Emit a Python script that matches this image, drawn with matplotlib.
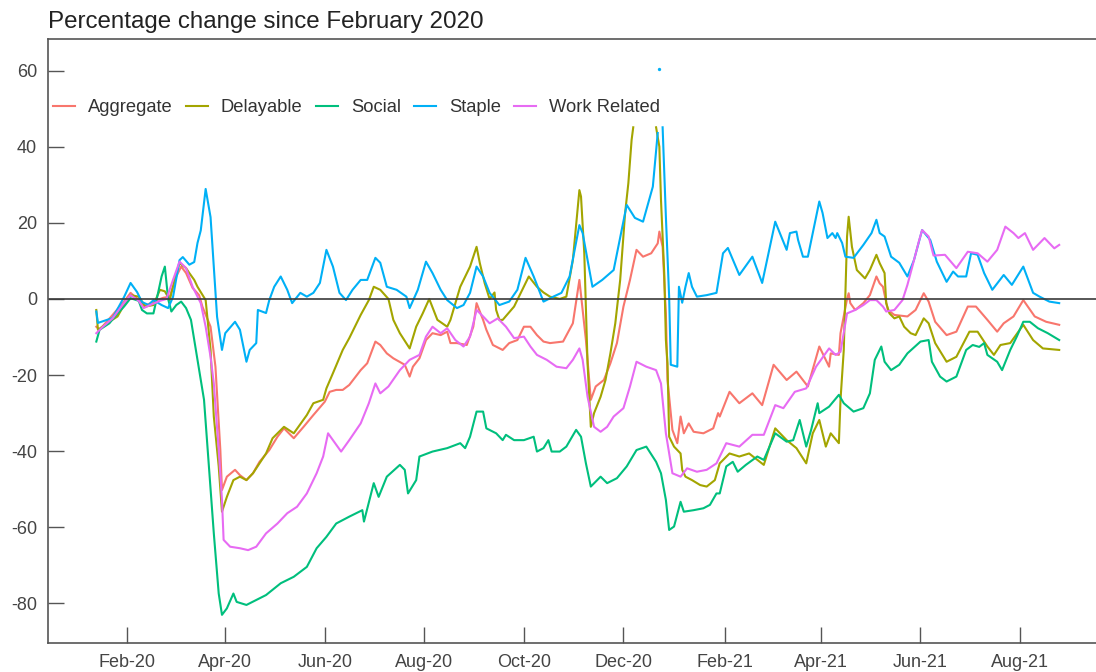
import numpy as np
import pandas as pd
import matplotlib
matplotlib.use('Agg')
from matplotlib import pyplot as plt
import matplotlib.dates as mdates

plt.rcParams['font.family'] = ['Liberation Sans', 'DejaVu Sans']
plt.rcParams['axes.unicode_minus'] = False

# day offsets are counted from 1 Feb 2020, values are % change since Feb 2020
base = pd.Timestamp('2020-02-01')

agg_day = [-19, -17, -9, -2, 2, 7, 10, 16, 22, 26, 30, 33, 36, 40, 44, 46, 51, 54, 57, 58,
           61, 66, 69, 73, 77, 81, 87, 92, 96, 102, 108, 114, 121, 124, 128, 132, 136, 143, 147, 152,
           155, 159, 163, 170, 173, 175, 179, 183, 187, 192, 196, 198, 202, 208, 212, 214, 218, 220, 224, 230,
           234, 239, 243, 247, 251, 255, 259, 267, 273, 277, 281, 284, 287, 292, 296, 300, 304, 308, 312, 316,
           321, 325, 326, 328, 330, 331, 334, 337, 339, 341, 344, 347, 353, 359, 362, 363, 369, 375, 383, 389,
           396, 404, 410, 417, 424, 430, 431, 436, 437, 441, 442, 443, 446, 451, 455, 459, 461, 463, 466, 470,
           478, 483, 488, 491, 495, 502, 508, 515, 520, 527, 533, 537, 543, 549, 556, 563, 571]
agg_val = [-7.3, -8.1, -4.2, -0.7, 1.6, -0.3, -2.0, -0.7, 0.3, 0.6, 5.9, 8.5, 6.8, 2.9, 1.0, -2.0, -7.3, -17.8, -39.7, -50.2,
           -46.7, -44.9, -46.3, -47.6, -45.8, -42.8, -39.7, -36.2, -34.0, -36.6, -33.6, -30.5, -27.0, -24.4, -23.9, -23.9, -22.6, -18.7, -16.9, -11.2,
           -12.1, -14.3, -15.6, -17.3, -20.4, -17.8, -15.6, -10.8, -9.0, -9.5, -8.6, -11.6, -11.6, -12.1, -7.3, -1.1, -5.5, -8.1, -12.1, -13.4,
           -11.6, -10.8, -7.3, -7.3, -9.5, -11.2, -11.6, -11.2, -6.4, 5.0, -10.8, -26.5, -23.0, -21.3, -16.9, -11.6, -2.0, 5.0, 12.9, 11.1,
           12.0, 14.6, 17.7, 13.7, -3.8, -21.3, -34.4, -37.9, -30.9, -35.3, -32.7, -34.9, -35.3, -34.0, -30.0, -30.9, -24.4, -27.4, -24.8, -27.9,
           -17.3, -21.3, -19.1, -23.0, -12.5, -17.8, -14.3, -14.7, -9.0, 0.0, 1.5, -1.1, -2.9, -1.1, 1.0, 5.9, 4.1, 3.2, -2.9, -4.2,
           -4.6, -2.9, 1.5, -0.7, -6.0, -9.5, -8.6, -2.0, -2.0, -5.5, -8.6, -6.4, -4.6, -0.3, -4.6, -6.0, -6.8]

del_day = [-19, -18, -11, -6, -2, 2, 7, 11, 16, 20, 23, 26, 30, 32, 36, 38, 41, 43, 48, 51,
           53, 56, 58, 61, 65, 69, 73, 77, 81, 85, 89, 96, 102, 110, 114, 120, 122, 126, 132, 136,
           143, 148, 151, 155, 160, 163, 167, 173, 177, 181, 185, 190, 193, 196, 198, 204, 210, 214, 216, 219,
           222, 225, 226, 228, 230, 237, 241, 246, 251, 255, 259, 265, 269, 273, 277, 278, 280, 282, 284, 286,
           290, 293, 296, 299, 302, 305, 307, 309, 310, 317, 324, 326, 327, 329, 330, 331, 332, 335, 339, 340,
           342, 346, 351, 355, 360, 363, 369, 375, 381, 390, 397, 404, 410, 416, 420, 424, 428, 431, 436, 437,
           439, 441, 442, 444, 447, 452, 455, 459, 461, 464, 465, 467, 470, 473, 476, 480, 483, 488, 491, 495,
           502, 508, 516, 521, 527, 531, 535, 541, 549, 555, 561, 571]
del_val = [-2.9, -8.1, -6.0, -4.6, -1.6, 1.0, 0.6, -2.0, -1.6, 2.4, 2.0, -0.3, 6.8, 9.4, 8.1, 6.8, 5.0, 3.2, -0.3, -13.4,
           -30.9, -44.0, -55.9, -52.0, -47.6, -46.7, -47.6, -45.8, -43.2, -40.6, -36.6, -33.6, -35.3, -30.5, -27.4, -26.5, -23.5, -19.5, -13.4, -10.3,
           -4.2, -0.3, 3.2, 2.4, 0.0, -5.5, -9.0, -13.0, -7.3, -3.8, 0.0, -5.5, -6.4, -7.3, -5.5, 3.2, 8.5, 13.7, 9.4, 4.1,
           0.0, 1.7, -2.9, -5.5, -5.5, -2.0, 1.5, 5.9, 3.2, 1.7, 0.6, 0.0, 0.6, 10.2, 28.6, 26.9, 12.0, -16.9, -33.6, -30.0,
           -25.7, -21.3, -14.3, -6.4, 5.0, 22.5, 30.4, 41.8, 45.1, np.nan, 45.1, 40.0, 26.0, 6.8, -10.8, -16.9, -36.2, -38.8, -40.6, -44.9,
           -46.7, -47.6, -48.9, -49.3, -47.6, -43.2, -40.6, -41.4, -40.6, -43.6, -34.0, -37.1, -39.2, -43.2, -35.3, -31.8, -38.8, -35.3, -37.9, -26.5,
           -13.4, 16.4, 21.6, 13.7, 7.6, 5.4, 7.6, 11.6, 9.4, 6.8, -1.1, -3.8, -5.1, -4.6, -7.3, -9.0, -9.5, -5.1, -6.4, -11.6,
           -16.5, -15.2, -8.6, -8.6, -12.5, -14.7, -12.1, -11.6, -6.8, -10.8, -13.0, -13.4]

soc_day = [-19, -17, -11, -6, -2, 2, 7, 9, 12, 16, 19, 21, 23, 25, 27, 30, 33, 36, 39, 42,
           47, 50, 53, 56, 58, 61, 65, 67, 73, 79, 85, 94, 102, 110, 116, 122, 128, 136, 144, 145,
           151, 154, 159, 167, 170, 172, 177, 179, 187, 196, 204, 207, 210, 214, 218, 220, 226, 230, 232, 237,
           243, 249, 251, 255, 258, 260, 265, 269, 275, 278, 281, 284, 290, 294, 300, 306, 312, 318, 324, 327,
           330, 332, 335, 339, 341, 347, 353, 357, 361, 363, 367, 371, 374, 379, 386, 390, 397, 404, 408, 412,
           416, 419, 423, 424, 430, 436, 439, 445, 451, 455, 458, 462, 464, 468, 473, 478, 486, 491, 493, 498,
           502, 508, 514, 518, 522, 525, 527, 533, 536, 541, 545, 549, 553, 558, 564, 571]
soc_val = [-11.2, -8.1, -6.4, -3.8, -2.0, 0.2, -0.5, -2.9, -3.8, -3.8, 1.9, 5.9, 8.5, 0.0, -3.3, -1.6, -0.7, -2.4, -5.5, -13.4,
           -26.5, -44.0, -61.6, -77.4, -83.0, -81.3, -77.4, -79.6, -80.4, -79.1, -77.8, -74.7, -73.0, -70.4, -65.5, -62.5, -59.0, -57.2, -55.5, -58.5,
           -48.4, -52.0, -46.7, -43.6, -44.9, -51.1, -47.6, -41.4, -40.1, -39.2, -37.9, -39.2, -36.2, -29.6, -29.6, -34.0, -35.3, -37.1, -35.7, -37.1,
           -37.1, -36.2, -40.1, -39.2, -37.1, -40.1, -40.1, -38.8, -34.4, -36.2, -43.2, -49.3, -46.7, -48.4, -47.1, -44.0, -39.7, -38.8, -42.8, -45.8,
           -52.8, -60.7, -59.8, -53.3, -55.9, -55.5, -55.0, -54.1, -51.1, -51.1, -44.0, -42.8, -45.4, -43.6, -41.4, -42.3, -35.3, -37.5, -37.1, -31.8,
           -38.8, -34.4, -27.4, -30.0, -28.3, -25.2, -27.4, -29.6, -28.7, -24.8, -16.0, -12.5, -16.5, -18.7, -17.3, -14.3, -11.2, -10.8, -16.5, -20.4,
           -21.7, -20.4, -13.4, -12.1, -12.6, -11.6, -14.7, -16.5, -18.7, -13.4, -9.9, -6.0, -6.0, -7.7, -9.0, -10.8]

sta_day = [-19, -18, -9, -2, 2, 6, 9, 13, 16, 21, 25, 28, 32, 34, 38, 41, 43, 45, 48, 51,
           53, 55, 58, 60, 66, 69, 73, 75, 79, 80, 85, 87, 90, 94, 98, 101, 106, 110, 114, 118,
           122, 126, 130, 134, 138, 143, 147, 152, 155, 159, 165, 171, 173, 178, 183, 187, 192, 196, 202, 206,
           210, 214, 218, 222, 228, 234, 239, 244, 249, 255, 261, 266, 271, 277, 279, 285, 291, 298, 306, 311,
           316, 322, 325, 326, 328, 330, 332, 333, 337, 338, 340, 342, 344, 346, 349, 355, 361, 365, 368, 375,
           383, 389, 397, 404, 406, 410, 411, 414, 417, 424, 426, 429, 432, 434, 435, 438, 440, 445, 451, 456,
           459, 461, 464, 468, 473, 478, 482, 487, 492, 496, 502, 506, 509, 514, 517, 521, 525, 530, 537, 542,
           549, 555, 559, 565, 571]
sta_val = [-3.3, -6.3, -5.0, 0.5, 4.2, 1.8, -0.8, -1.6, -0.3, -1.6, -2.4, 0.5, 10.2, 11.0, 9.0, 9.7, 14.7, 18.0, 28.9, 21.5,
           8.4, -4.7, -13.4, -9.0, -6.0, -8.1, -16.5, -13.4, -11.6, -2.9, -3.7, -0.3, 3.2, 5.9, 2.4, -1.1, 1.6, 0.6, 1.6, 4.2,
           12.9, 8.5, 1.6, -0.3, 2.4, 5.0, 5.0, 10.8, 9.5, 3.2, 2.4, 0.6, -2.4, 2.4, 9.8, 6.8, 2.4, -0.3, -2.4, -1.6,
           1.6, 8.5, 5.9, 1.6, -1.6, -0.7, 2.4, 10.8, 5.9, -0.7, 0.6, 1.6, 5.9, 19.4, 17.3, 3.2, 5.0, 7.6, 24.7, 21.3,
           20.3, 29.5, 43.6, np.nan, 45.1, 21.6, 0.6, -17.3, -17.8, 3.2, -1.0, 3.2, 6.8, 3.2, 0.6, 1.0, 1.6, 12.0, 13.4, 6.3,
           11.1, 4.2, 20.3, 12.9, 17.3, 17.7, 15.5, 11.1, 11.1, 25.6, 22.6, 16.0, 17.3, 16.0, 17.3, 14.7, 11.1, 10.8, 14.2, 17.3,
           20.8, 17.3, 16.4, 11.1, 9.5, 5.9, 10.2, 18.1, 15.5, 9.8, 4.5, 7.2, 5.9, 5.9, 12.0, 11.6, 6.8, 2.4, 6.3, 3.7,
           8.5, 1.6, 0.6, -0.7, -1.1]

# a single Staple reading just before Christmas 2020 that stands apart from the line
sta_dot_day = [326]
sta_dot_val = [60.4]

wrk_day = [-19, -15, -9, -3, 2, 7, 10, 14, 20, 24, 28, 32, 36, 40, 45, 48, 51, 53, 56, 58,
           59, 63, 69, 74, 79, 85, 92, 98, 104, 110, 116, 120, 123, 126, 131, 136, 143, 148, 152, 155,
           160, 167, 173, 179, 183, 187, 192, 196, 201, 206, 210, 214, 218, 222, 227, 232, 237, 243, 247, 251,
           257, 263, 269, 273, 277, 279, 282, 286, 290, 294, 298, 304, 308, 312, 318, 324, 327, 330, 334, 339,
           343, 349, 355, 361, 367, 375, 383, 390, 397, 402, 409, 416, 422, 430, 434, 437, 441, 446, 451, 455,
           459, 463, 465, 470, 475, 478, 481, 485, 487, 491, 494, 501, 508, 515, 521, 527, 533, 538, 543, 546,
           550, 555, 562, 568, 571]
wrk_val = [-9.0, -7.3, -5.1, -1.6, 1.0, -0.5, -2.4, -1.6, -0.5, 0.0, 5.0, 9.8, 8.1, 3.2, -1.1, -7.3, -15.2, -22.2, -39.7, -52.8,
           -63.3, -65.1, -65.5, -66.0, -65.1, -61.6, -59.0, -56.3, -54.6, -51.1, -45.8, -41.4, -35.3, -37.1, -40.1, -37.1, -32.7, -27.4, -22.2, -24.8,
           -23.0, -18.7, -16.0, -14.7, -9.9, -7.3, -9.0, -7.7, -10.8, -12.5, -9.9, -2.9, -4.6, -6.4, -5.1, -7.3, -10.3, -9.9, -12.5, -14.7,
           -16.0, -17.8, -18.2, -16.0, -13.0, -16.0, -25.7, -33.6, -34.9, -33.6, -30.9, -28.7, -23.0, -16.5, -17.8, -18.7, -22.2, -35.3, -45.8, -46.7,
           -44.5, -45.4, -44.9, -43.2, -37.9, -38.8, -35.7, -35.7, -27.9, -28.7, -24.4, -23.5, -17.8, -13.0, -14.7, -13.9, -3.8, -2.9, -1.6, -0.3,
           -0.3, -2.0, -3.3, -2.9, -0.3, 3.7, 8.5, 15.1, 18.1, 16.4, 11.4, 11.6, 8.1, 12.4, 12.0, 9.8, 12.9, 19.0, 17.3, 16.0,
           17.3, 12.9, 16.0, 13.3, 14.2]

names = ['Aggregate', 'Delayable', 'Social', 'Staple', 'Work Related']
colors = ['#F8766D', '#A3A500', '#00BF7D', '#00B0F6', '#E76BF3']
series = [(agg_day, agg_val), (del_day, del_val), (soc_day, soc_val),
          (sta_day, sta_val), (wrk_day, wrk_val)]


def to_dates(days):
    return base + pd.to_timedelta(np.asarray(days, dtype=float), unit='D')


fig = plt.figure(figsize=(10.96, 6.72), dpi=100)
# axes box runs off the right edge of the image, as in the original
ax = fig.add_axes([48 / 1096, 29 / 672, 1052 / 1096, 604 / 672])

for (days, vals), name, col in zip(series, names, colors):
    ax.plot(to_dates(days), vals, color=col, lw=1.5, label=name)

ax.plot(to_dates(sta_dot_day), sta_dot_val, 'o', color=colors[3], ms=2.4, mec='none')

ax.axhline(0, color='#3a3a3a', lw=1.2)

ax.set_xlim(to_dates([-48.6])[0], to_dates([596])[0])
ax.set_ylim(-90.4, 68.3)

ax.set_yticks([-80, -60, -40, -20, 0, 20, 40, 60])
ticks = pd.date_range('2020-02-01', '2021-08-01', freq='2MS')
ax.set_xticks(ticks)
ax.xaxis.set_major_formatter(mdates.DateFormatter('%b-%y'))

ax.tick_params(direction='in', length=11.5, width=1, color='#555555',
               labelsize=13, labelcolor='#444444', pad=8)

for side in ['left', 'bottom', 'top', 'right']:
    ax.spines[side].set_color('#555555')
    ax.spines[side].set_linewidth(1.2)

fig.text(48 / 1096, 1 - 28 / 672, 'Percentage change since February 2020',
         fontsize=17.4, color='#222222', ha='left', va='baseline')

leg = ax.legend(loc='center left', bbox_to_anchor=(53 / 1096, 1 - 108 / 672),
                bbox_transform=fig.transFigure, ncol=5, frameon=False,
                fontsize=13.2, handlelength=1.2, handletextpad=0.72,
                columnspacing=0.7, borderpad=0, borderaxespad=0)
for t in leg.get_texts():
    t.set_color('#333333')

fig.savefig('out.png', dpi=100)
